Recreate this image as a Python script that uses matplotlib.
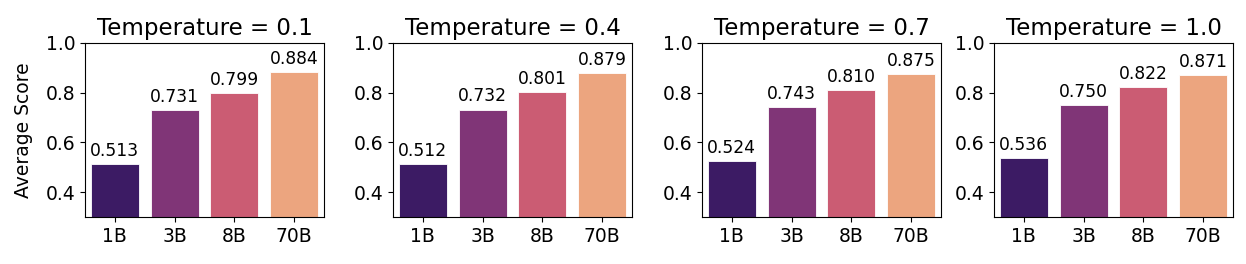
import matplotlib
matplotlib.use("Agg")
import matplotlib.pyplot as plt
import seaborn as sns

models = ["1B", "3B", "8B", "70B"]
temperatures = ["0.1", "0.4", "0.7", "1.0"]
scores_t01 = [0.513, 0.731, 0.799, 0.884]
scores_t04 = [0.512, 0.732, 0.801, 0.879]
scores_t07 = [0.524, 0.743, 0.810, 0.875]
scores_t10 = [0.536, 0.750, 0.822, 0.871]
all_scores = [scores_t01, scores_t04, scores_t07, scores_t10]

colors = [sns.desaturate(c, 0.75) for c in sns.color_palette("magma", len(models))]

fig = plt.figure(figsize=(12.46, 2.64), dpi=100)
lefts = [85, 393, 702, 994]
W, H = 1246, 264
axw = 239
for i, (temp, scores) in enumerate(zip(temperatures, all_scores)):
    ax = fig.add_axes([lefts[i] / W, (H - 217) / H, axw / W, (217 - 43) / H])
    x = list(range(len(models)))
    ax.bar(x, scores, width=0.8, color=colors, edgecolor="white", linewidth=0.6)
    for xi, v in zip(x, scores):
        ax.text(xi, v + 0.017, f"{v:.3f}", ha="center", va="bottom", fontsize=12.3)
    ax.set_xticks(x)
    ax.set_xticklabels(models)
    ax.set_xlim(-0.5, len(models) - 0.5)
    ax.set_ylim(0.3, 1.0)
    ax.set_yticks([0.4, 0.6, 0.8, 1.0])
    ax.tick_params(labelsize=13.5)
    ax.set_title(f"Temperature = {temp}", fontsize=16.5)
    if i == 0:
        ax.set_ylabel("Average Score", fontsize=13.5, labelpad=9)

fig.savefig("out.png", dpi=100)
